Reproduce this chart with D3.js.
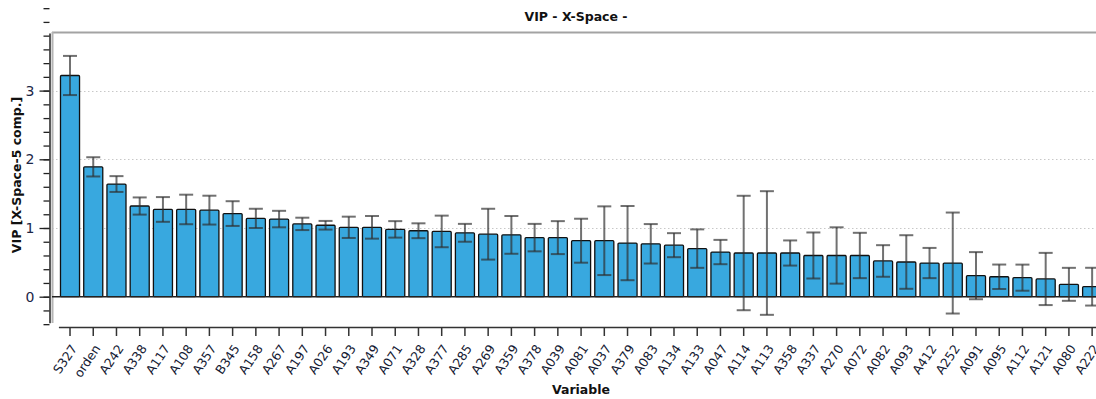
<!DOCTYPE html>
<html>
<head>
<meta charset="utf-8">
<script src="https://cdn.jsdelivr.net/npm/d3@7"></script>
<style>
  html, body { margin: 0; padding: 0; background: #fff; }
  svg { display: block; }
</style>
</head>
<body>
<svg id="chart" width="1096" height="399"></svg>
<script>
// Variables ranked by VIP (X-Space, 5 components)
const categories = ["S327","orden","A242","A338","A117","A108","A357","B345","A158","A267",
  "A197","A026","A193","A349","A071","A328","A377","A285","A269","A359",
  "A378","A039","A081","A037","A379","A083","A134","A133","A047","A114",
  "A113","A358","A337","A270","A072","A082","A093","A412","A252","A091",
  "A095","A112","A121","A080","A222"];

const vip = [3.22,1.89,1.64,1.32,1.27,1.27,1.26,1.21,1.14,1.13,
  1.06,1.04,1.01,1.01,0.98,0.96,0.95,0.93,0.91,0.90,
  0.86,0.86,0.815,0.815,0.78,0.77,0.75,0.70,0.65,0.636,
  0.636,0.636,0.60,0.60,0.60,0.52,0.505,0.49,0.49,0.306,
  0.29,0.277,0.258,0.18,0.146];

// half-width of the confidence interval for each VIP value
const ciHalf = [0.285,0.14,0.115,0.125,0.18,0.215,0.21,0.18,0.14,0.12,
  0.09,0.063,0.155,0.165,0.12,0.108,0.23,0.13,0.37,0.275,
  0.20,0.24,0.32,0.50,0.54,0.287,0.175,0.28,0.177,0.833,
  0.90,0.183,0.335,0.41,0.33,0.23,0.39,0.22,0.735,0.343,
  0.178,0.19,0.38,0.24,0.275];

const yMajorTicks = [0, 1, 2, 3];
const yMinorTicks = d3.range(-2, 39, 1).map(d => +(d * 0.2).toFixed(1));

const chartTitle = "VIP - X-Space -";
const xTitle = "Variable";
const yTitle = "VIP [X-Space-5 comp.]";

const W = 1096, H = 399;
const svg = d3.select("#chart");

const step = 23.23;
const x0 = 58.4;
const x = d3.scaleBand()
  .domain(categories)
  .range([x0, x0 + categories.length * step])
  .paddingInner(0.18)
  .paddingOuter(0.09);

const y = d3.scaleLinear().domain([-0.38, 3.84]).range([322.8, 32.9]);

const frameLeft = 52;
const axisX = 49.5;
const xAxisY = 327;

// background
svg.append("rect").attr("width", W).attr("height", H).attr("fill", "#fff");

// dotted gridlines at the labelled values
svg.append("g")
  .selectAll("line")
  .data(yMajorTicks.filter(d => d !== 0))
  .join("line")
  .attr("x1", frameLeft).attr("x2", W)
  .attr("y1", d => Math.round(y(d)) + 0.5).attr("y2", d => Math.round(y(d)) + 0.5)
  .attr("stroke", "#c8c8c8")
  .attr("stroke-width", 1)
  .attr("stroke-dasharray", "1.5,2.5");

// plot frame (top and left edges)
svg.append("line")
  .attr("x1", frameLeft).attr("x2", W).attr("y1", 32.5).attr("y2", 32.5)
  .attr("stroke", "#a3a3a3").attr("stroke-width", 2);
svg.append("line")
  .attr("x1", frameLeft + 0.5).attr("x2", frameLeft + 0.5).attr("y1", 32).attr("y2", 323)
  .attr("stroke", "#b4b4b4").attr("stroke-width", 2);

// bars
svg.append("g")
  .selectAll("rect")
  .data(categories)
  .join("rect")
  .attr("x", d => x(d))
  .attr("width", x.bandwidth())
  .attr("y", (d, i) => y(vip[i]))
  .attr("height", (d, i) => y(0) - y(vip[i]))
  .attr("fill", "#38a8df")
  .attr("stroke", "#111")
  .attr("stroke-width", 1.3)
  .attr("rx", 1);

// zero line
svg.append("line")
  .attr("x1", frameLeft).attr("x2", W)
  .attr("y1", y(0)).attr("y2", y(0))
  .attr("stroke", "#222").attr("stroke-width", 1.5);

// error bars
const cap = 7;
const eb = svg.append("g")
  .attr("stroke", "rgba(45,45,45,0.68)")
  .attr("stroke-width", 2)
  .selectAll("g")
  .data(categories)
  .join("g")
  .attr("transform", d => `translate(${x(d) + x.bandwidth() / 2},0)`);
eb.append("line")
  .attr("y1", (d, i) => y(vip[i] + ciHalf[i]))
  .attr("y2", (d, i) => y(vip[i] - ciHalf[i]));
eb.append("line")
  .attr("x1", -cap).attr("x2", cap)
  .attr("y1", (d, i) => y(vip[i] + ciHalf[i]))
  .attr("y2", (d, i) => y(vip[i] + ciHalf[i]));
eb.append("line")
  .attr("x1", -cap).attr("x2", cap)
  .attr("y1", (d, i) => y(vip[i] - ciHalf[i]))
  .attr("y2", (d, i) => y(vip[i] - ciHalf[i]));

// y axis: minor ticks
const yMinor = svg.append("g")
  .attr("transform", `translate(${axisX},0)`)
  .call(d3.axisLeft(y).tickValues(yMinorTicks).tickSize(6).tickSizeOuter(0).tickFormat(""));
yMinor.select(".domain").attr("stroke", "#222").attr("stroke-width", 1.5);
yMinor.selectAll(".tick line").attr("stroke", "#222").attr("stroke-width", 1.3);

// y axis: major ticks with labels
const yMajor = svg.append("g")
  .attr("transform", `translate(${axisX},0)`)
  .call(d3.axisLeft(y).tickValues(yMajorTicks).tickSize(10).tickPadding(5).tickSizeOuter(0).tickFormat(d3.format("d")));
yMajor.select(".domain").remove();
yMajor.selectAll(".tick line").attr("stroke", "#222").attr("stroke-width", 1.3);
yMajor.selectAll(".tick text")
  .attr("fill", "#1c2647")
  .style("font-family", "'DejaVu Sans', sans-serif")
  .style("font-size", "14px");

// x axis
const xAxis = svg.append("g")
  .attr("transform", `translate(0,${xAxisY})`)
  .call(d3.axisBottom(x).tickSize(9).tickSizeOuter(0));
xAxis.select(".domain").attr("stroke", "#333").attr("stroke-width", 1.5);
xAxis.selectAll(".tick line").attr("stroke", "#333").attr("stroke-width", 1.5);
xAxis.selectAll(".tick text")
  .attr("x", 4).attr("y", 19).attr("dy", "0.35em")
  .attr("text-anchor", "end")
  .attr("transform", "rotate(-56,4,19)")
  .attr("fill", "#151a33")
  .style("font-family", "'DejaVu Sans', sans-serif")
  .style("font-size", "12.5px");

// titles
svg.append("text")
  .attr("x", 576).attr("y", 21)
  .attr("text-anchor", "middle")
  .style("font-family", "'DejaVu Sans', sans-serif")
  .style("font-weight", "bold").style("font-size", "12.5px")
  .attr("fill", "#111")
  .text(chartTitle);

svg.append("text")
  .attr("x", 581).attr("y", 394)
  .attr("text-anchor", "middle")
  .style("font-family", "'DejaVu Sans', sans-serif")
  .style("font-weight", "bold").style("font-size", "12.5px")
  .attr("fill", "#111")
  .text(xTitle);

svg.append("text")
  .attr("transform", "translate(21,175) rotate(-90)")
  .attr("text-anchor", "middle")
  .style("font-family", "'DejaVu Sans', sans-serif")
  .style("font-weight", "bold").style("font-size", "12.5px")
  .attr("fill", "#111")
  .text(yTitle);
</script>
</body>
</html>
